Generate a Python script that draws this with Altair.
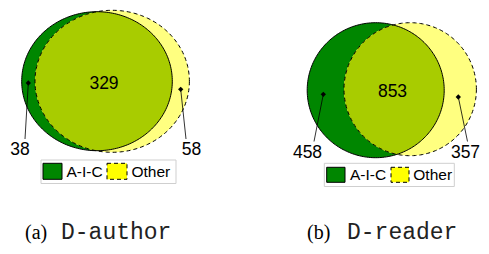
import math
import altair as alt
import pandas as pd

# ---------------- data ----------------
panel_tags = ["(a)", "(b)"]
panel_names = ["D-author", "D-reader"]
set_names = ["A-I-C", "Other"]
only_aic = [38, 458]
both = [329, 853]
only_other = [58, 357]

# ---------------- layout (page pixel coordinates) ----------------
# ellipses: (cx, cy, rx, ry)
aic_ell = [(97.0, 81.2, 75.3, 69.5), (375.7, 90.2, 68.5, 67.5)]
oth_ell = [(112.2, 81.3, 77.2, 71.0), (410.2, 89.2, 66.2, 66.5)]
center_lbl = [(104, 84), (392.5, 91.5)]
left_dot = [(28.3, 83.0), (323.3, 94.3)]
left_end = [(25.0, 139.0), (314.0, 141.5)]
left_lbl = [(20, 149.5), (307.5, 153)]
right_dot = [(180.7, 89.3), (458.3, 97.0)]
right_end = [(186.0, 139.0), (467.5, 141.5)]
right_lbl = [(191.5, 149.5), (465.5, 153)]
legend_box = [(41, 176, 160, 183.5), (324.3, 454.3, 163.3, 186.5)]
sw_green = [(43, 62, 163.3, 179.3), (326.7, 345, 167.3, 182.3)]
sw_yellow = [(107, 127, 163.3, 179.3), (391, 409, 167.3, 182.3)]
lg_text_x = [(66.5, 131.5), (350, 413.3)]
lg_text_y = [171.5, 175]
tag_x = [25, 307]
name_x = [61, 347]
caption_y = 239

GREEN = "#008600"
YELLOW_LIGHT = "#ffff80"
OVERLAP = "#a8cc00"
YELLOW = "#ffff00"


def ellipse_pts(cx, cy, rx, ry, n=240):
    return [(cx + rx * math.cos(2 * math.pi * i / n), cy + ry * math.sin(2 * math.pi * i / n)) for i in range(n)]


def clip_poly(subject, clipper):
    def inside(p, a, b):
        return (b[0] - a[0]) * (p[1] - a[1]) - (b[1] - a[1]) * (p[0] - a[0]) >= 0

    def inter(p1, p2, a, b):
        x1, y1 = p1; x2, y2 = p2; x3, y3 = a; x4, y4 = b
        den = (x1 - x2) * (y3 - y4) - (y1 - y2) * (x3 - x4)
        t = ((x1 - x3) * (y3 - y4) - (y1 - y3) * (x3 - x4)) / den
        return (x1 + t * (x2 - x1), y1 + t * (y2 - y1))

    out = subject
    for i in range(len(clipper)):
        a, b = clipper[i], clipper[(i + 1) % len(clipper)]
        inp = out
        out = []
        if not inp:
            break
        s = inp[-1]
        for e in inp:
            if inside(e, a, b):
                if not inside(s, a, b):
                    out.append(inter(s, e, a, b))
                out.append(e)
            elif inside(s, a, b):
                out.append(inter(s, e, a, b))
            s = e
    return out


def to_path(pts, ox, oy):
    return "M " + " L ".join(f"{x - ox:.2f} {y - oy:.2f}" for x, y in pts) + " Z"


VW, VH = 473, 238
X = alt.X("x:Q", scale=alt.Scale(domain=[8, 8 + VW]), axis=None)
Y = alt.Y("y:Q", scale=alt.Scale(domain=[8, 8 + VH], reverse=True), axis=None)

layers = []
for k in range(2):
    A = ellipse_pts(*aic_ell[k])
    B = ellipse_pts(*oth_ell[k])
    I = clip_poly(A, B)
    ax, ay = aic_ell[k][0], aic_ell[k][1]
    bx, by = oth_ell[k][0], oth_ell[k][1]
    dA = pd.DataFrame({"x": [ax], "y": [ay]})
    dB = pd.DataFrame({"x": [bx], "y": [by]})
    pa, pb, pi = to_path(A, ax, ay), to_path(B, bx, by), to_path(I, ax, ay)
    common = dict(size=4, opacity=1)
    layers += [
        alt.Chart(dA).mark_point(shape=pa, filled=True, color=GREEN, strokeWidth=0, **common).encode(x=X, y=Y),
        alt.Chart(dB).mark_point(shape=pb, filled=True, color=YELLOW_LIGHT, strokeWidth=0, **common).encode(x=X, y=Y),
        alt.Chart(dA).mark_point(shape=pi, filled=True, color=OVERLAP, strokeWidth=0, **common).encode(x=X, y=Y),
        alt.Chart(dA).mark_point(shape=pa, filled=False, color="black", strokeWidth=1, **common).encode(x=X, y=Y),
        alt.Chart(dB).mark_point(shape=pb, filled=False, color="black", strokeWidth=1, strokeDash=[4, 3], **common).encode(x=X, y=Y),
    ]

    # leader lines and dots
    lines = pd.DataFrame({
        "x": [left_dot[k][0], right_dot[k][0]], "y": [left_dot[k][1], right_dot[k][1]],
        "x2": [left_end[k][0], right_end[k][0]], "y2": [left_end[k][1], right_end[k][1]],
    })
    layers.append(alt.Chart(lines).mark_rule(color="black", strokeWidth=0.8).encode(x=X, y=Y, x2="x2:Q", y2="y2:Q"))
    dots = pd.DataFrame({"x": [left_dot[k][0], right_dot[k][0]], "y": [left_dot[k][1], right_dot[k][1]]})
    layers.append(alt.Chart(dots).mark_point(shape="diamond", filled=True, color="black", size=28, opacity=1).encode(x=X, y=Y))

    # counts
    counts = pd.DataFrame({
        "x": [center_lbl[k][0], left_lbl[k][0], right_lbl[k][0]],
        "y": [center_lbl[k][1], left_lbl[k][1], right_lbl[k][1]],
        "t": [str(both[k]), str(only_aic[k]), str(only_other[k])],
    })
    layers.append(alt.Chart(counts).mark_text(font="Liberation Sans", fontSize=17.5, color="black",
                                               align="center", baseline="middle").encode(x=X, y=Y, text="t:N"))

    # legend
    box = pd.DataFrame({"x": [legend_box[k][0]], "x2": [legend_box[k][1]], "y": [legend_box[k][2]], "y2": [legend_box[k][3]]})
    layers.append(alt.Chart(box).mark_rect(fillOpacity=0, stroke="#cfcfcf", strokeWidth=1).encode(x=X, x2="x2:Q", y=Y, y2="y2:Q"))
    g = pd.DataFrame({"x": [sw_green[k][0]], "x2": [sw_green[k][1]], "y": [sw_green[k][2]], "y2": [sw_green[k][3]]})
    layers.append(alt.Chart(g).mark_rect(fill=GREEN, stroke="black", strokeWidth=1).encode(x=X, x2="x2:Q", y=Y, y2="y2:Q"))
    yv = pd.DataFrame({"x": [sw_yellow[k][0]], "x2": [sw_yellow[k][1]], "y": [sw_yellow[k][2]], "y2": [sw_yellow[k][3]]})
    layers.append(alt.Chart(yv).mark_rect(fill=YELLOW, stroke="black", strokeWidth=1, strokeDash=[4, 3]).encode(x=X, x2="x2:Q", y=Y, y2="y2:Q"))
    lt = pd.DataFrame({"x": list(lg_text_x[k]), "y": [lg_text_y[k]] * 2, "t": set_names})
    layers.append(alt.Chart(lt).mark_text(font="Liberation Sans", fontSize=15.5, color="black",
                                           align="left", baseline="middle").encode(x=X, y=Y, text="t:N"))

    # caption
    tg = pd.DataFrame({"x": [tag_x[k]], "y": [caption_y], "t": [panel_tags[k]]})
    layers.append(alt.Chart(tg).mark_text(font="Liberation Serif", fontSize=20, color="black",
                                           align="left", baseline="alphabetic").encode(x=X, y=Y, text="t:N"))
    nm = pd.DataFrame({"x": [name_x[k]], "y": [caption_y], "t": [panel_names[k]]})
    layers.append(alt.Chart(nm).mark_text(font="Liberation Mono", fontSize=23, color="#222222",
                                           align="left", baseline="alphabetic").encode(x=X, y=Y, text="t:N"))

chart = alt.layer(*layers).properties(
    width=VW, height=VH, padding=0, autosize=alt.AutoSizeParams(type="none")
).configure_view(stroke=None)

chart.save("out.html", embed_options={"renderer": "svg", "actions": False})
